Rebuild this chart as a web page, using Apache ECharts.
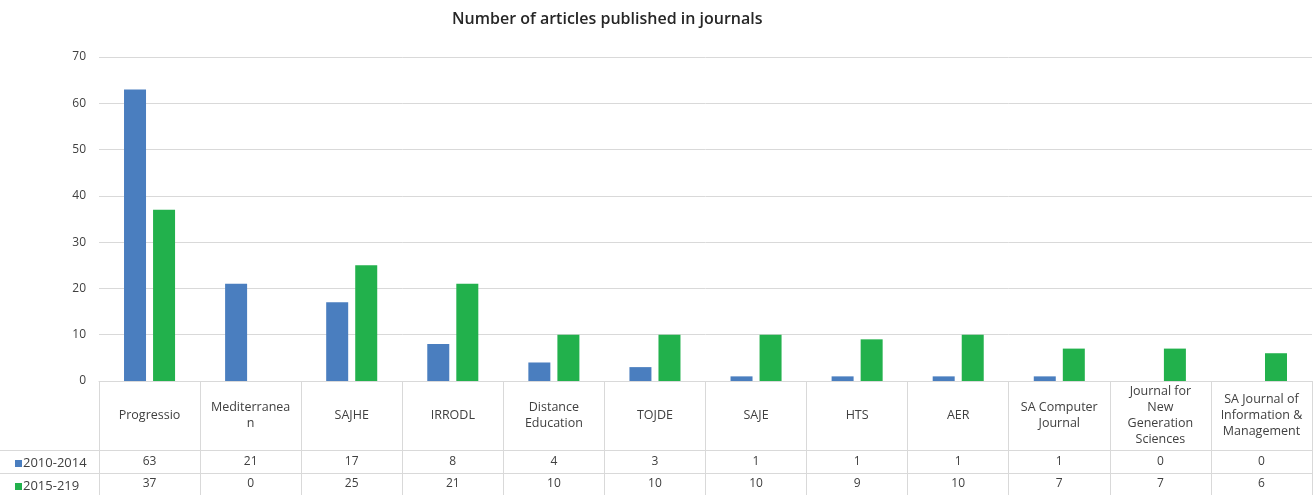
<!DOCTYPE html>
<html>
<head>
<meta charset="utf-8">
<title>Number of articles published in journals</title>
<script src="https://cdn.jsdelivr.net/npm/echarts@6/dist/echarts.min.js"></script>
<style>
  html, body { margin: 0; padding: 0; background: #fff; }
  #chart { width: 1314px; height: 495px; }
</style>
</head>
<body>
<div id="chart"></div>
<script>
// journals (line breaks as in the table header)
const journals = [
  "Progressio", "Mediterranea\nn", "SAJHE", "IRRODL", "Distance\nEducation",
  "TOJDE", "SAJE", "HTS", "AER", "SA Computer\nJournal",
  "Journal for\nNew\nGeneration\nSciences", "SA Journal of\nInformation &\nManagement"
];
const seriesNames = ["2010-2014", "2015-219"];
const period1 = [63, 21, 17, 8, 4, 3, 1, 1, 1, 1, 0, 0];
const period2 = [37, 0, 25, 21, 10, 10, 10, 9, 10, 7, 7, 6];
const yTicks = { min: 0, max: 70, interval: 10 };

const font = "Open Sans";
const gridColor = "#d9d9d9";
const textColor = "#404040";
const colors = ["#4a7ebf", "#22b14c"];

const chart = echarts.init(document.getElementById("chart"));

// one extra x axis per table row, the values show as its labels
function rowAxis(values, offset, margin) {
  return {
    type: "category",
    position: "bottom",
    offset: offset,
    data: values.map(String),
    axisLine: { show: true, lineStyle: { color: gridColor } },
    axisTick: { show: false },
    axisLabel: {
      interval: 0,
      margin: margin,
      verticalAlign: "middle",
      color: textColor,
      fontFamily: font,
      fontSize: 12
    }
  };
}

// one legend per table row, so each sits in its own row
function rowLegend(name, top) {
  return {
    left: 10,
    top: top,
    itemWidth: 7,
    itemHeight: 7,
    icon: "rect",
    data: [name],
    textStyle: { fontFamily: font, fontSize: 13, color: textColor, padding: [0, 0, 0, -4] }
  };
}

chart.setOption({
  animation: false,
  title: {
    text: "Number of articles published in journals",
    left: 447,
    top: 6,
    textStyle: { fontFamily: font, fontSize: 16, fontWeight: 600, color: "#262626" }
  },
  legend: [rowLegend(seriesNames[0], 452), rowLegend(seriesNames[1], 475)],
  grid: { left: 99, right: 2, top: 57, bottom: 114 },
  xAxis: [
    {
      type: "category",
      data: journals,
      axisLine: { lineStyle: { color: gridColor } },
      axisTick: { show: true, length: 114, lineStyle: { color: gridColor } },
      axisLabel: {
        interval: 0,
        margin: 34,
        verticalAlign: "middle",
        lineHeight: 16,
        color: textColor,
        fontFamily: font,
        fontSize: 12.5
      }
    },
    rowAxis(period1, 69, 12),
    rowAxis(period2, 92, 11)
  ],
  yAxis: {
    type: "value",
    min: yTicks.min,
    max: yTicks.max,
    interval: yTicks.interval,
    axisLine: { show: false },
    axisTick: { show: false },
    splitLine: { lineStyle: { color: gridColor } },
    axisLabel: { margin: 13, color: textColor, fontFamily: font, fontSize: 12 }
  },
  graphic: [
    // table lines in the legend column
    { type: "line", shape: { x1: 0, y1: 450.5, x2: 99, y2: 450.5 }, style: { stroke: gridColor } },
    { type: "line", shape: { x1: 0, y1: 473.5, x2: 99, y2: 473.5 }, style: { stroke: gridColor } }
  ],
  series: [
    {
      name: seriesNames[0],
      type: "bar",
      data: period1,
      barWidth: 22,
      barGap: "32%",
      itemStyle: { color: colors[0] }
    },
    {
      name: seriesNames[1],
      type: "bar",
      data: period2,
      barWidth: 22,
      itemStyle: { color: colors[1] }
    }
  ]
});
</script>
</body>
</html>
